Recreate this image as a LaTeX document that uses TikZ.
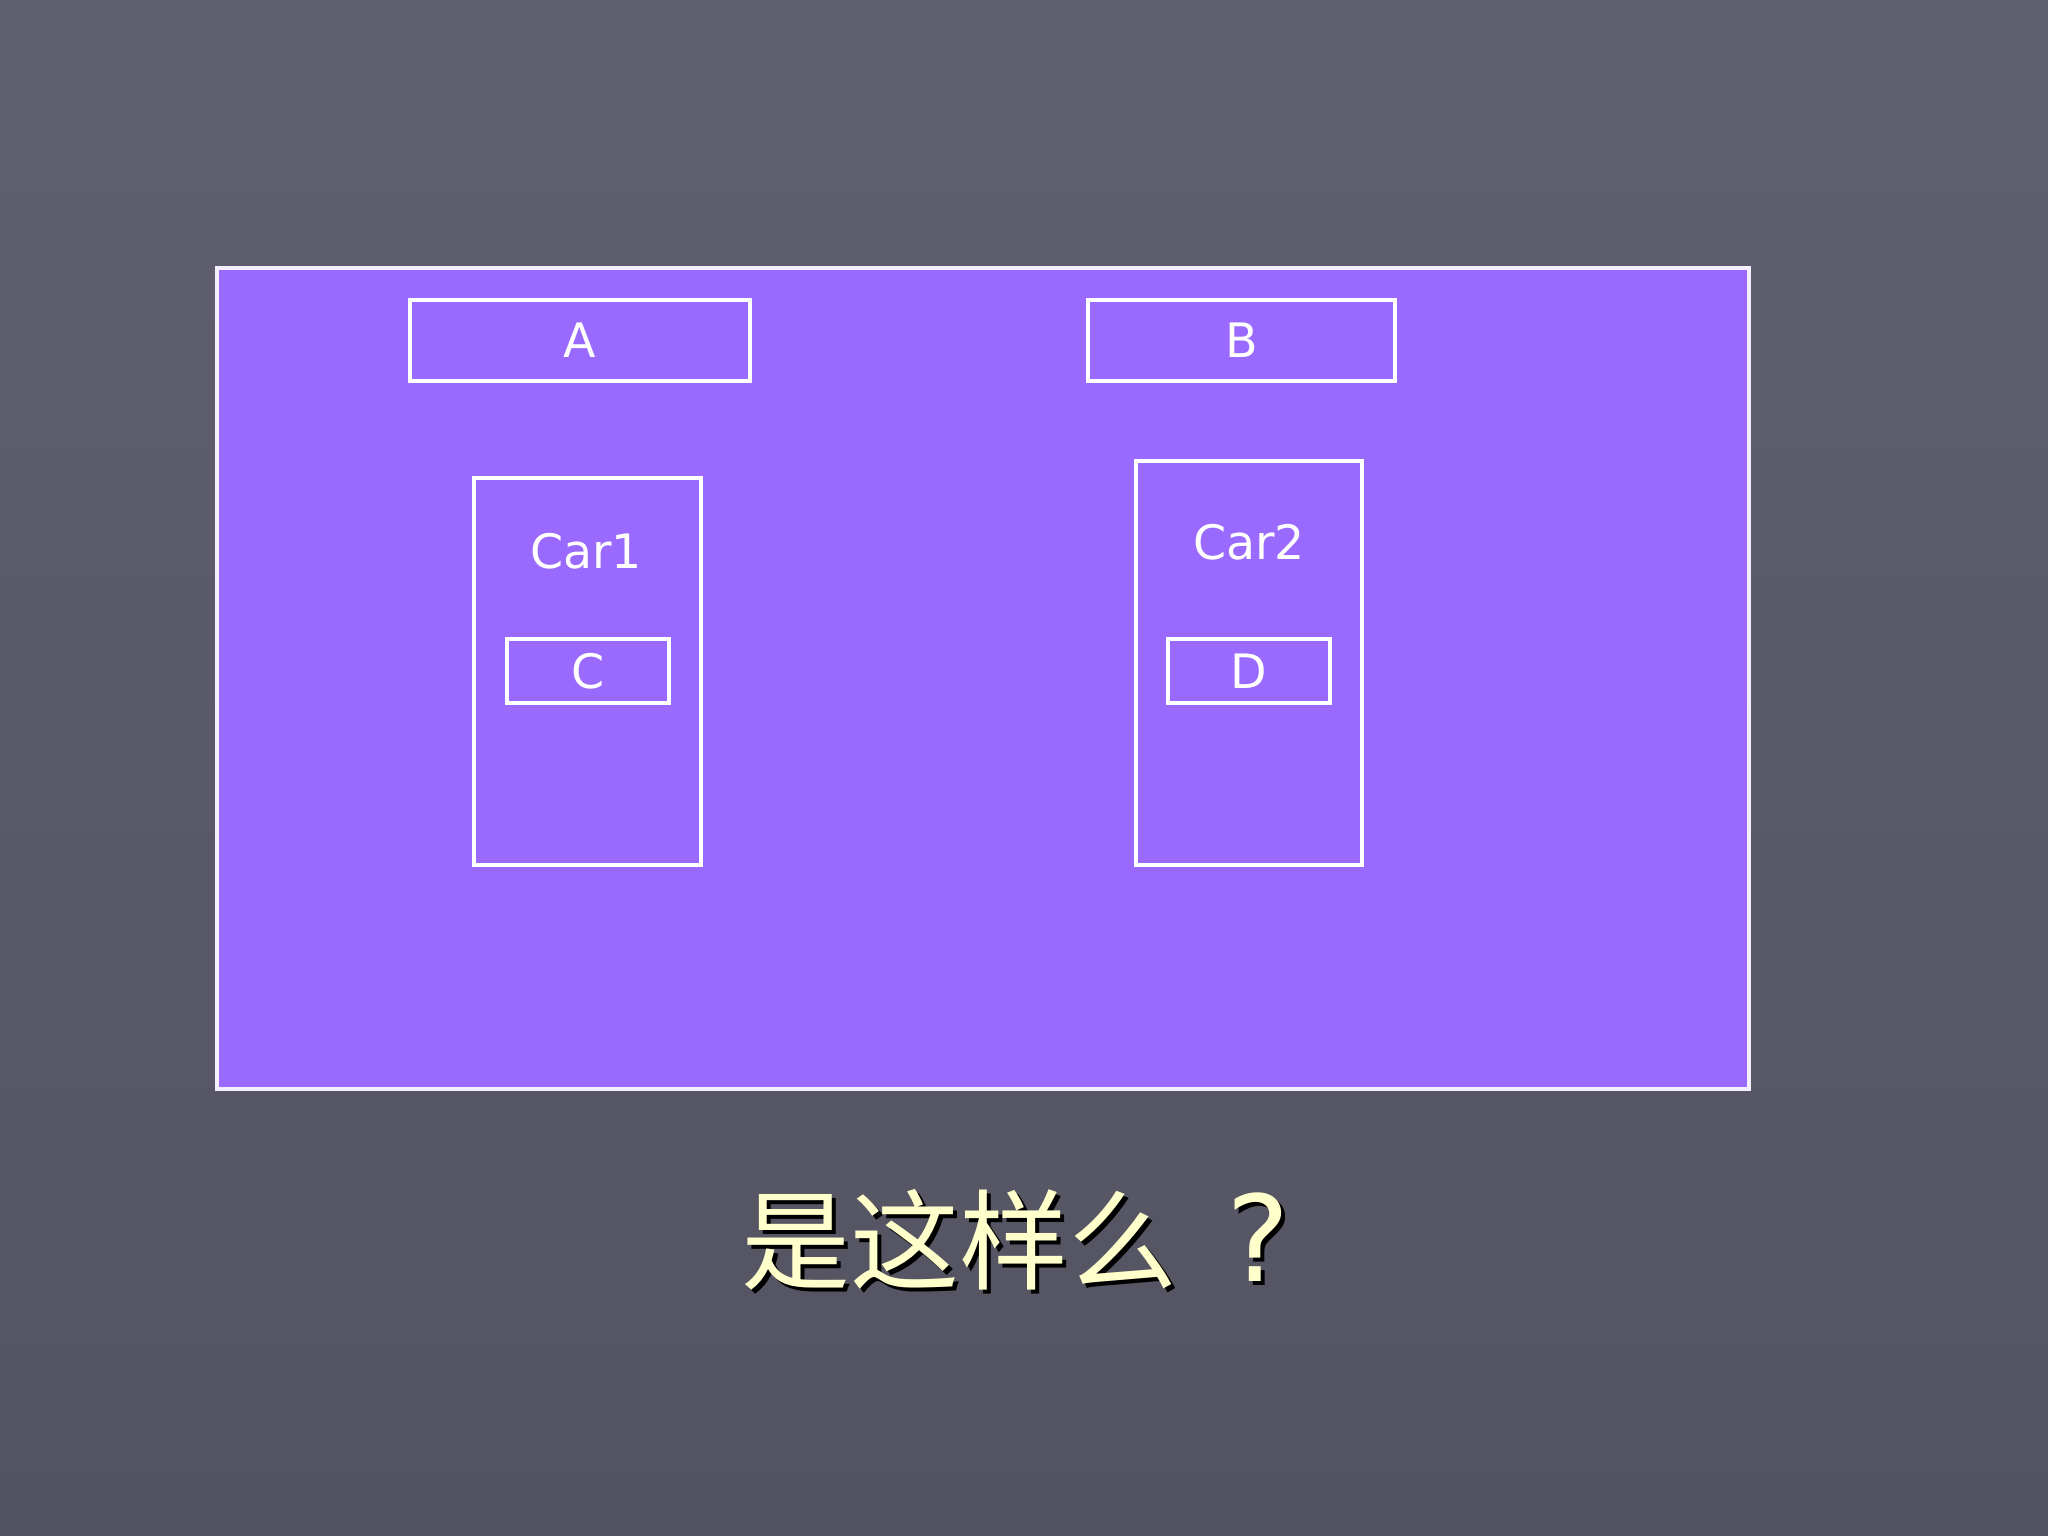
\documentclass[tikz,border=0pt]{standalone}
\usepackage{fontspec}
\setmainfont{DejaVu Sans}
\newfontfamily\cjk{Noto Sans CJK SC}
\definecolor{slidetop}{HTML}{5F5F6D}
\definecolor{slidebottom}{HTML}{535361}
\definecolor{stagefill}{HTML}{9A69FD}
\definecolor{titletext}{HTML}{FFFFCC}
\newcommand{\labelFont}{\fontsize{13.5}{16}\selectfont}
\newcommand{\titleText}{是这样么\hspace{0.45em}{\fontspec{DejaVu Sans}\fontsize{34}{36}\selectfont ?}}
\tikzset{
  stage/.style={draw=white!90!stagefill, line width=1pt, fill=stagefill},
  box/.style={draw=white, line width=0.9pt, inner sep=0pt, text=white, font=\labelFont},
  carlabel/.style={text=white, inner sep=0pt, font=\labelFont},
  titlefont/.style={inner sep=0pt, anchor=base, font=\cjk\fontsize{31}{36}\selectfont}
}

\begin{document}
\begin{tikzpicture}
\useasboundingbox (0,0) rectangle (20.48,15.36);
\shade[top color=slidetop, bottom color=slidebottom] (0,0) rectangle (20.48,15.36);

\node[stage, minimum width=15.32cm, minimum height=8.21cm] (stage) at (9.83,8.575) {};

\node[box, minimum width=3.40cm, minimum height=0.81cm] (boxA) at (5.80,11.955) {A};
\node[box, minimum width=3.07cm, minimum height=0.81cm] (boxB) at (12.415,11.955) {B};

\node[box, minimum width=2.27cm, minimum height=3.87cm] (car1) at (5.875,8.645) {};
\node[carlabel] (car1label) at (5.86,9.85) {Car1};
\node[box, minimum width=1.62cm, minimum height=0.64cm] (boxC) at (5.88,8.65) {C};

\node[box, minimum width=2.26cm, minimum height=4.04cm] (car2) at (12.49,8.73) {};
\node[carlabel] (car2label) at (12.49,9.94) {Car2};
\node[box, minimum width=1.62cm, minimum height=0.64cm] (boxD) at (12.49,8.65) {D};

\node[titlefont, text=black] (titleshadow) at (10.20,2.50) {\titleText};
\node[titlefont, text=titletext] (title) at (10.16,2.54) {\titleText};
\end{tikzpicture}
\end{document}
